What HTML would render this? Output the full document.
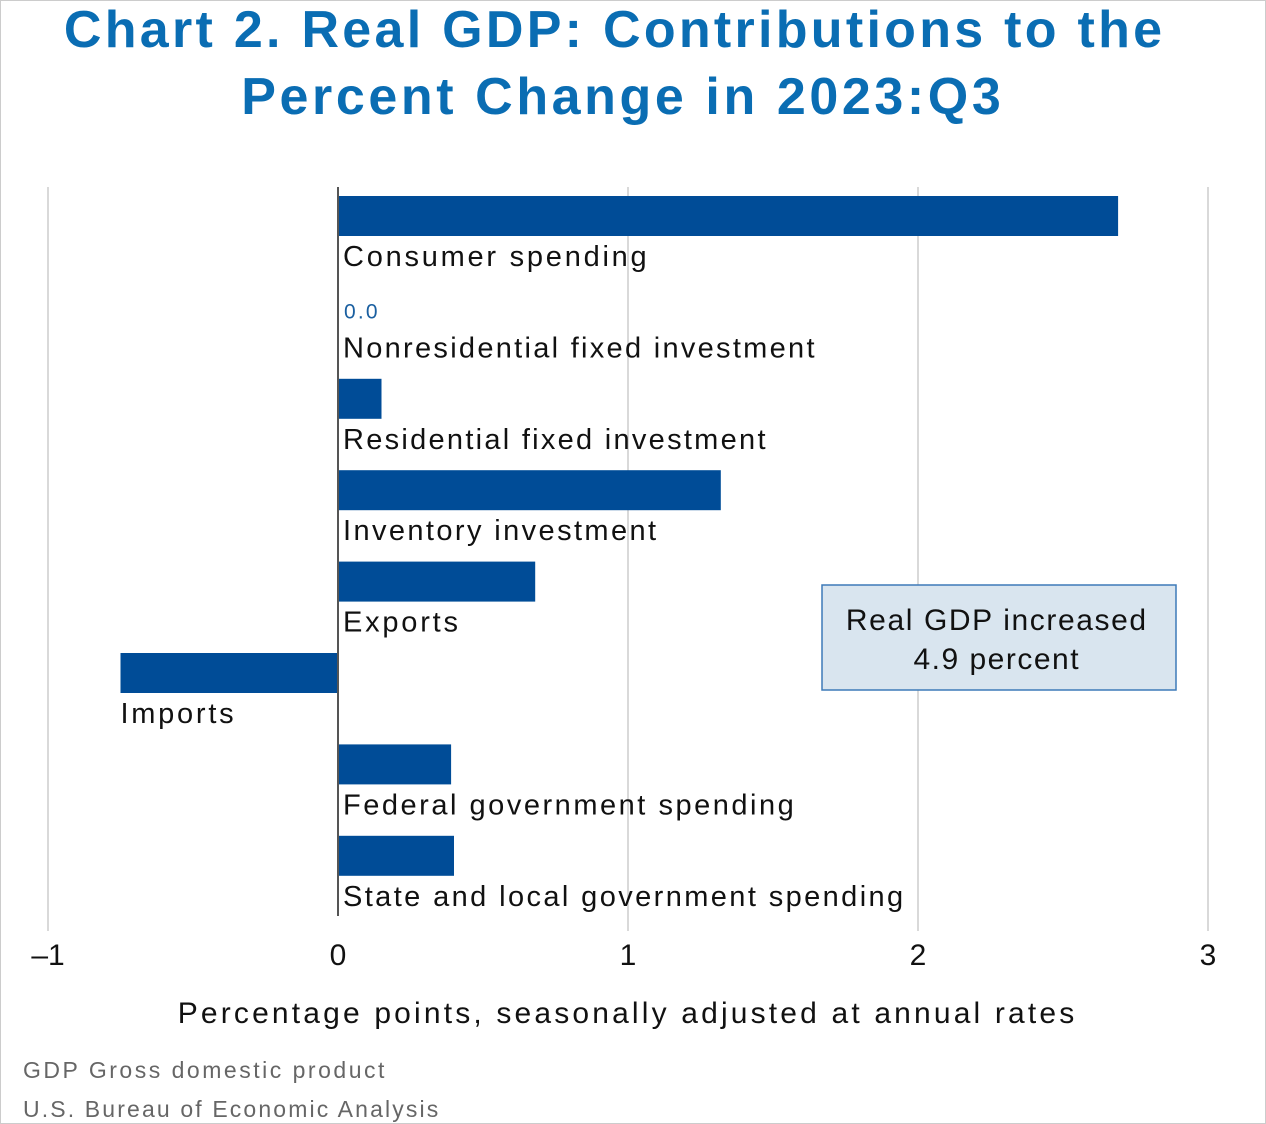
<!DOCTYPE html>
<html><head><meta charset="utf-8"><style>
body{margin:0;background:#fff;}
#wrap{position:relative;width:1266px;height:1124px;overflow:hidden;font-family:"Liberation Sans",sans-serif;border:1px solid #ccc;box-sizing:border-box;}
</style></head><body>
<div id="wrap">
<svg id="chart" width="1266" height="1124"></svg>
</div>
<script>
const categories=["Consumer spending","Nonresidential fixed investment","Residential fixed investment","Inventory investment","Exports","Imports","Federal government spending","State and local government spending"];
const values=[2.69,0.0,0.15,1.32,0.68,-0.75,0.39,0.40];
const ticks=[-1,0,1,2,3];
const tickLabels=["\u20131","0","1","2","3"];
const NS="http://www.w3.org/2000/svg";
const svg=document.getElementById('chart');
const x=v=>337+v*290;
const rowY=i=>196+i*91.4;
function mk(tag,attrs,text){const e=document.createElementNS(NS,tag);for(const k in attrs)e.setAttribute(k,attrs[k]);if(text!==undefined)e.textContent=text;svg.appendChild(e);return e;}
function stretch(e,f){const w=e.getComputedTextLength();e.setAttribute('textLength',(w*f).toFixed(1));e.setAttribute('lengthAdjust','spacing');}
let t=mk('text',{x:612,y:46,'text-anchor':'middle','font-size':52,'font-weight':'bold',fill:'#0a6db3'},'Chart 2. Real GDP: Contributions to the');


stretch(t,1.128);
t=mk('text',{x:620,y:113,'text-anchor':'middle','font-size':52,'font-weight':'bold',fill:'#0a6db3'},'Percent Change in 2023:Q3');


stretch(t,1.128);
ticks.forEach((v,i)=>{
  if(v!==0){const g=mk('line',{x1:x(v),x2:x(v),y1:186,y2:930,stroke:'#d9d9d9','stroke-width':2});
  
  }
  const l=mk('text',{x:x(v),y:964,'text-anchor':'middle','font-size':30,fill:'#111'},tickLabels[i]);
  
  
});
categories.forEach((c,i)=>{
  const v=values[i];const y=rowY(i)-1;
  const r=mk('rect',{x:Math.min(x(0),x(v)),y:y,width:Math.abs(x(v)-x(0)),height:40,fill:'#004c97'});
  
  
  const lx=v<0?x(v):x(0)+5;
  const l=mk('text',{x:lx,y:y+70,'font-size':29,fill:'#111'},c);
  
  
  stretch(l,1.17);
  if(v===0){const z=mk('text',{x:x(0)+6,y:y+31,'font-size':21,fill:'#1a5fa0'},v.toFixed(1));
  
  
  stretch(z,1.15);}
});
const ax=mk('line',{x1:x(0),x2:x(0),y1:186,y2:915,stroke:'#555','stroke-width':2});


const box=mk('rect',{x:821,y:584,width:354,height:105,fill:'#d9e5ef',stroke:'#3d7ab8','stroke-width':1.5});


t=mk('text',{x:995,y:629,'text-anchor':'middle','font-size':30,fill:'#111'},'Real GDP increased');


stretch(t,1.1);
t=mk('text',{x:995,y:668,'text-anchor':'middle','font-size':30,fill:'#111'},'4.9 percent');


stretch(t,1.1);
t=mk('text',{x:625,y:1022,'text-anchor':'middle','font-size':30,fill:'#111'},'Percentage points, seasonally adjusted at annual rates');


stretch(t,1.23);
t=mk('text',{x:22,y:1077,'font-size':23,fill:'#666'},'GDP Gross domestic product');


stretch(t,1.21);
t=mk('text',{x:22,y:1116,'font-size':23,fill:'#666'},'U.S. Bureau of Economic Analysis');


stretch(t,1.19);
</script>
</body></html>
